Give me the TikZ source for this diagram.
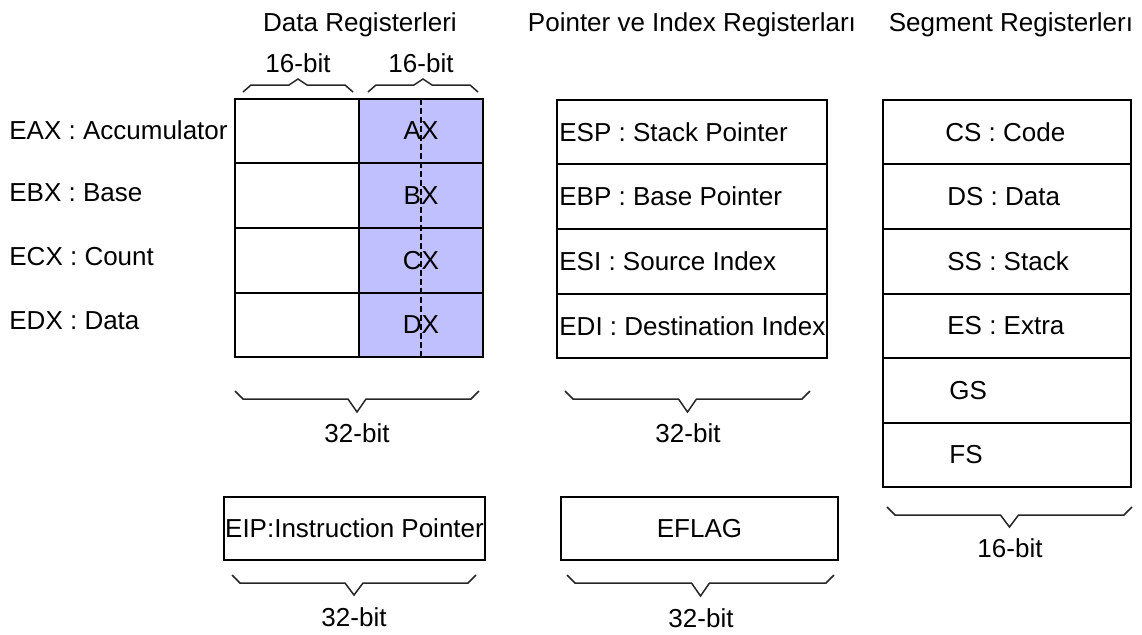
\documentclass[tikz,border=0pt]{standalone}
\usepackage{fontspec}
\setmainfont{Liberation Sans}
\usepackage{xcolor}
\usetikzlibrary{positioning}

\definecolor{regblue}{RGB}{192,192,255}

% bit-width brace: left x, right x, flat y, tip offset, end offset
\newcommand{\bitbrace}[5]{%
  \draw[brace] (#1,{#3+(#5)}) -- (#1+8,#3) -- ({(#1+#2)/2-9},#3)
    -- ({(#1+#2)/2},{#3+(#4)}) -- ({(#1+#2)/2+9},#3) -- (#2-8,#3) -- (#2,{#3+(#5)});}

\begin{document}
\begin{tikzpicture}[
    x=0.5pt, y=-0.5pt,
    font=\fontsize{13}{15}\selectfont,
    cell/.style={draw, line width=1pt, minimum width=62pt, minimum height=32.3pt,
                 inner sep=0pt, outer sep=0pt},
    lowcell/.style={cell},
    highcell/.style={cell, fill=regblue},
    ptrcell/.style={cell, minimum width=135pt},
    segcell/.style={cell, minimum width=124pt},
    brace/.style={line width=0.75pt, black!85},
    split/.style={line width=0.8pt, dash pattern=on 3pt off 1.5pt},
    regname/.style={anchor=west, inner sep=1pt}
]
\useasboundingbox (0,0) rectangle (1142,634);

% Titles
\node (datatitle) at (360,25) {Data Registerleri};
\node (ptrtitle) at (692,25) {Pointer ve Index Registerları};
\node (segtitle) at (1011,25) {Segment Registerlerı};

% Data registers
\node [lowcell] (eaxhi) at (297,131) {};
\node [highcell, right=0pt of eaxhi] (ax) {AX};
\node [lowcell, below=0pt of eaxhi] (ebxhi) {};
\node [highcell, right=0pt of ebxhi] (bx) {BX};
\node [lowcell, below=0pt of ebxhi] (ecxhi) {};
\node [highcell, right=0pt of ecxhi] (cx) {CX};
\node [lowcell, below=0pt of ecxhi] (edxhi) {};
\node [highcell, right=0pt of edxhi] (dx) {DX};
\draw [split] (ax.north) -- (dx.south);

\node [regname] (eax) at (7,130) {EAX : Accumulator};
\node [regname] (ebx) at (7,193) {EBX : Base};
\node [regname] (ecx) at (7,257) {ECX : Count};
\node [regname] (edx) at (7,321) {EDX : Data};

\node (hibits) at (298,63) {16-bit};
\node (lobits) at (421,63) {16-bit};
\bitbrace{243}{353}{85}{-6}{7}
\bitbrace{368}{478}{85}{-6}{7}
\bitbrace{235}{479}{399}{13}{-8}
\node (databits) at (357,433) {32-bit};

% Pointer and index registers
\node [ptrcell] (esp) at (692,132) {};
\node [ptrcell, below=0pt of esp] (ebp) {};
\node [ptrcell, below=0pt of ebp] (esi) {};
\node [ptrcell, below=0pt of esi] (edi) {};
\node [regname] (esptext) at (esp.west) {ESP : Stack Pointer};
\node [regname] (ebptext) at (ebp.west) {EBP : Base Pointer};
\node [regname] (esitext) at (esi.west) {ESI : Source Index};
\node [regname] (editext) at (edi.west) {EDI : Destination Index};
\bitbrace{565}{810}{399}{13}{-8}
\node (ptrbits) at (688,433) {32-bit};

% Segment registers
\node [segcell] (cs) at (1007,132) {};
\node [segcell, below=0pt of cs] (ds) {};
\node [segcell, below=0pt of ds] (ss) {};
\node [segcell, below=0pt of ss] (es) {};
\node [segcell, below=0pt of es] (gs) {};
\node [segcell, below=0pt of gs] (fs) {};
\node [regname] (cstext) at ([xshift=30pt]cs.west) {CS : Code};
\node [regname] (dstext) at ([xshift=31pt]ds.west) {DS : Data};
\node [regname] (sstext) at ([xshift=31pt]ss.west) {SS : Stack};
\node [regname] (estext) at ([xshift=31pt]es.west) {ES : Extra};
\node [regname] (gstext) at ([xshift=32pt]gs.west) {GS};
\node [regname] (fstext) at ([xshift=32pt]fs.west) {FS};
\bitbrace{887}{1132}{515}{12}{-8}
\node (segbits) at (1010,548) {16-bit};

% Instruction pointer and flags
\node [cell, minimum width=130.5pt, minimum height=31.5pt] (eip) at (354.5,528.5) {EIP:Instruction Pointer};
\bitbrace{232}{476}{583}{12}{-8}
\node (eipbits) at (354,617) {32-bit};

\node [cell, minimum width=138.5pt, minimum height=31.5pt] (eflag) at (699.5,528.5) {EFLAG};
\bitbrace{567}{834}{583}{13}{-8}
\node (flagbits) at (701,618) {32-bit};

\end{tikzpicture}
\end{document}
